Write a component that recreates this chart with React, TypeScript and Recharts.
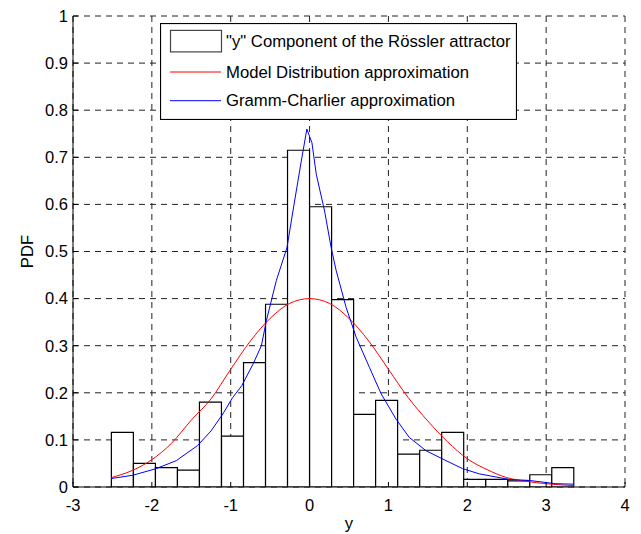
import React from 'react';
import { ComposedChart, Bar, Line, XAxis, YAxis, CartesianGrid, Legend } from 'recharts';

// Histogram bins (centres) and heights
const binCenters = [-2.374, -2.094, -1.815, -1.536, -1.257, -0.977, -0.698, -0.419, -0.14, 0.14, 0.419, 0.698, 0.977, 1.257, 1.536, 1.815, 2.094, 2.374, 2.653, 2.932, 3.211];
const binHeights = [0.116, 0.05, 0.041, 0.036, 0.18, 0.108, 0.264, 0.388, 0.715, 0.595, 0.398, 0.154, 0.184, 0.07, 0.078, 0.116, 0.016, 0.016, 0.013, 0.026, 0.041];

// Model distribution (red)
const modelX = [-2.513, -2.25, -2.0, -1.75, -1.5, -1.25, -1.0, -0.75, -0.5, -0.25, 0, 0.25, 0.5, 0.75, 1.0, 1.25, 1.5, 1.75, 2.0, 2.25, 2.5, 2.75, 3.0, 3.35];
const modelY = [0.02, 0.035, 0.058, 0.093, 0.142, 0.187, 0.25, 0.31, 0.358, 0.39, 0.4, 0.39, 0.358, 0.31, 0.25, 0.19, 0.14, 0.096, 0.06, 0.037, 0.02, 0.012, 0.007, 0.003];

// Gramm-Charlier approximation (blue)
const gcX = [-2.513, -2.24, -1.945, -1.69, -1.42, -1.25, -1.1, -0.975, -0.86, -0.717, -0.611, -0.548, -0.422, -0.287, -0.19, -0.105, -0.034, 0.03, 0.085, 0.19, 0.274, 0.338, 0.464, 0.591, 0.759, 0.907, 1.097, 1.266, 1.477, 1.73, 1.94, 2.15, 2.53, 2.78, 3.12, 3.35];
const gcY = [0.018, 0.025, 0.039, 0.056, 0.088, 0.119, 0.155, 0.19, 0.215, 0.261, 0.3, 0.353, 0.438, 0.508, 0.607, 0.692, 0.76, 0.731, 0.664, 0.586, 0.508, 0.459, 0.381, 0.318, 0.254, 0.198, 0.144, 0.105, 0.077, 0.056, 0.039, 0.028, 0.016, 0.014, 0.007, 0.006];

const xTicks = [-3, -2, -1, 0, 1, 2, 3, 4];
const yTicks = [0, 0.1, 0.2, 0.3, 0.4, 0.5, 0.6, 0.7, 0.8, 0.9, 1];

const histName = '"y" Component of the Rössler attractor';
const modelName = 'Model Distribution approximation';
const gcName = 'Gramm-Charlier approximation';
const legendOrder = [histName, modelName, gcName];

const histData = binCenters.map((x, i) => ({ x, pdf: binHeights[i] }));
const modelData = modelX.map((x, i) => ({ x, y: modelY[i] }));
const gcData = gcX.map((x, i) => ({ x, y: gcY[i] }));

const FONT = '"Liberation Sans", Arial, Helvetica, sans-serif';

function LegendBox(props: any) {
  const payload = [...(props.payload || [])].sort(
    (a: any, b: any) => legendOrder.indexOf(a.value) - legendOrder.indexOf(b.value)
  );
  const rows = [18.4, 49, 77.7];
  return (
    <svg width={357} height={97} style={{ display: 'block', fontFamily: FONT }}>
      <rect x={0.5} y={0.5} width={356} height={96} fill="#fff" stroke="#000" strokeWidth={1.2} />
      {payload.map((p: any, i: number) => {
        const cy = rows[i];
        return (
          <g key={p.value}>
            {p.type === 'rect' ? (
              <rect x={10.5} y={cy - 11} width={51} height={21.5} fill="#fff" stroke="#444" strokeWidth={1.2} />
            ) : (
              <line x1={10} x2={61} y1={cy} y2={cy} stroke={p.color} strokeWidth={1} />
            )}
            <text x={66} y={cy} dominantBaseline="central" fontSize={16.7} fill="#000">
              {p.value}
            </text>
          </g>
        );
      })}
    </svg>
  );
}

const YLabel = (props: any) => {
  const vb = props.viewBox || {};
  const cx = vb.x + 27.5;
  const cy = vb.y + vb.height / 2;
  return (
    <text x={cx} y={cy} transform={`rotate(-90, ${cx}, ${cy})`} textAnchor="middle" dominantBaseline="central" fontSize={16.7} fontFamily={FONT} fill="#000">
      PDF
    </text>
  );
};

export default function App() {
  const tickStyle = { fill: '#000', fontSize: 16.5, fontFamily: FONT };
  return (
    <div style={{ position: 'absolute', left: 0, top: 0, width: 641, height: 534, background: '#fff' }}>
      <ComposedChart
        width={641}
        height={534}
        data={histData}
        margin={{ top: 16, right: 16, left: 0, bottom: 0 }}
        barCategoryGap={0}
        barGap={0}
      >
        <CartesianGrid stroke="#222" strokeDasharray="6 5" strokeWidth={1} />
        <XAxis
          dataKey="x"
          type="number"
          domain={[-3, 4]}
          ticks={xTicks}
          interval={0}
          allowDataOverflow
          height={47}
          tickSize={-5}
          tickMargin={17}
          axisLine={{ stroke: '#000' }}
          tickLine={{ stroke: '#000' }}
          tick={tickStyle}
          label={{ value: 'y', position: 'insideBottom', offset: 5, style: { fontSize: 16.7, fontFamily: FONT, fill: '#000' } }}
        />
        <XAxis
          xAxisId="top"
          orientation="top"
          type="number"
          dataKey="x"
          domain={[-3, 4]}
          ticks={xTicks}
          interval={0}
          allowDataOverflow
          height={0}
          tickSize={-5}
          axisLine={false}
          tickLine={{ stroke: '#000' }}
          tick={false}
        />
        <XAxis
          xAxisId="lines"
          type="number"
          dataKey="x"
          domain={[-3, 4]}
          allowDataOverflow
          hide
        />
        <YAxis
          type="number"
          domain={[0, 1]}
          ticks={yTicks}
          interval={0}
          allowDataOverflow
          width={73}
          tickSize={-5}
          tickMargin={10}
          axisLine={{ stroke: '#000' }}
          tickLine={{ stroke: '#000' }}
          tick={tickStyle}
          label={<YLabel />}
        />
        <YAxis
          yAxisId="right"
          orientation="right"
          type="number"
          domain={[0, 1]}
          ticks={yTicks}
          interval={0}
          width={0}
          tickSize={-5}
          axisLine={false}
          tickLine={{ stroke: '#000' }}
          tick={false}
        />
        <Bar
          dataKey="pdf"
          name={histName}
          fill="#fff"
          stroke="#000"
          strokeWidth={1.2}
          legendType="rect"
          isAnimationActive={false}
        />
        <Line
          xAxisId="lines"
          data={modelData}
          dataKey="y"
          name={modelName}
          type="monotone"
          stroke="#ff0000"
          strokeWidth={1}
          dot={false}
          legendType="line"
          isAnimationActive={false}
        />
        <Line
          xAxisId="lines"
          data={gcData}
          dataKey="y"
          name={gcName}
          type="linear"
          stroke="#0000ff"
          strokeWidth={1}
          dot={false}
          legendType="line"
          isAnimationActive={false}
        />
        <Legend
          layout="vertical"
          align="center"
          verticalAlign="middle"
          content={<LegendBox />}
          wrapperStyle={{ left: 160, top: 23, width: 357, height: 97 }}
        />
      </ComposedChart>
    </div>
  );
}
